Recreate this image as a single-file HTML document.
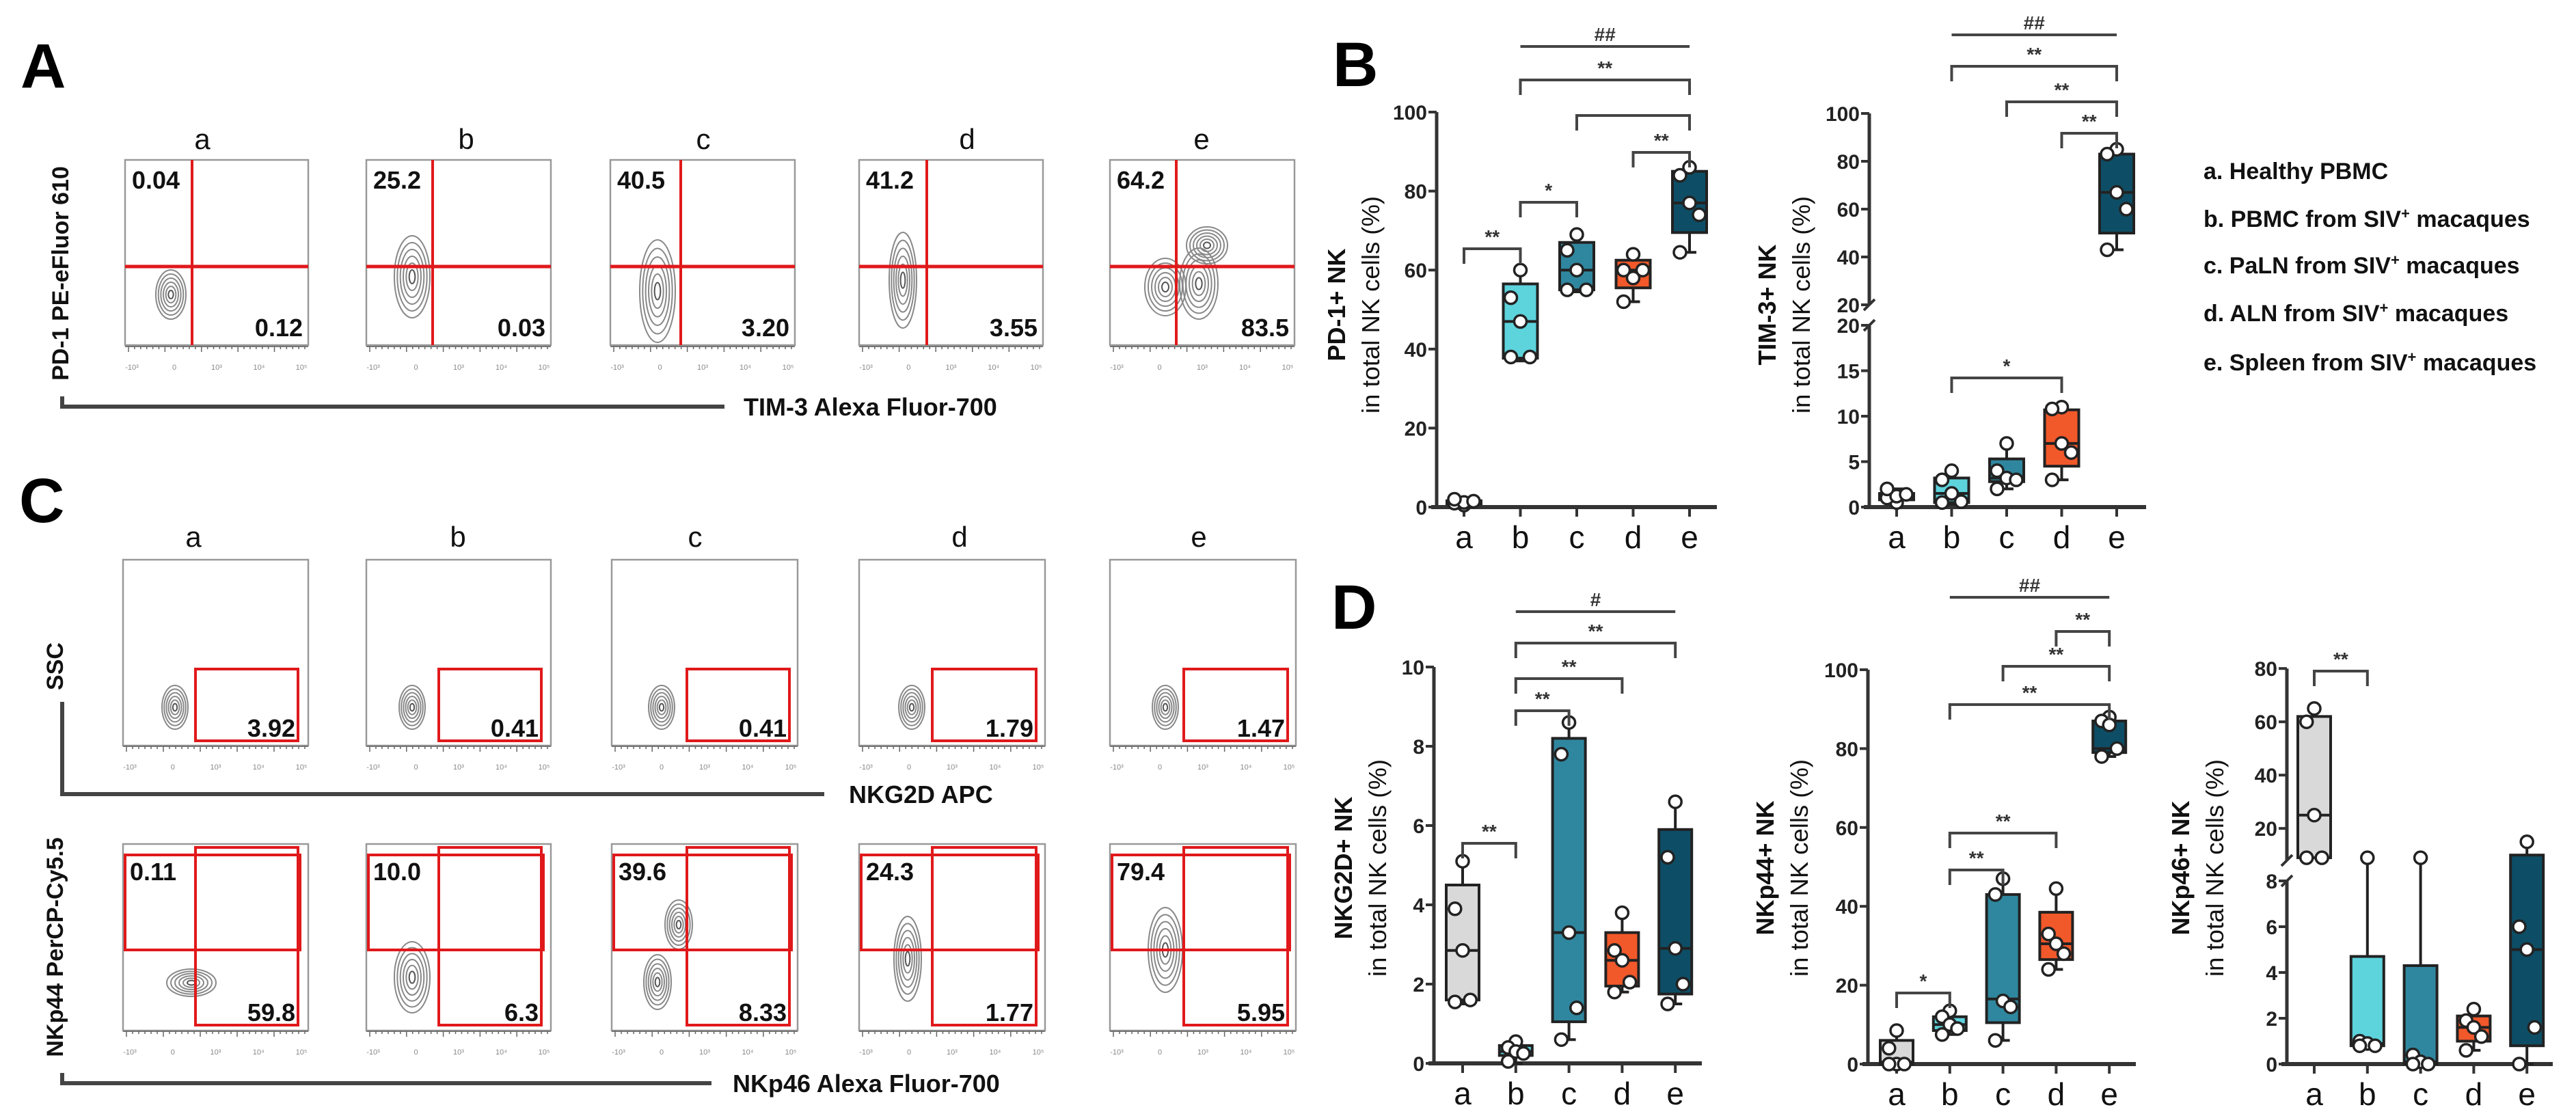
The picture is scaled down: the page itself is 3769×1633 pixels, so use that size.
<!DOCTYPE html>
<html><head><meta charset="utf-8"><style>
html,body{margin:0;padding:0;background:#fff}
svg{display:block;font-family:"Liberation Sans",sans-serif}
</style></head><body>
<svg id="fig" width="3769" height="1633" viewBox="0 0 3769 1633" xmlns="http://www.w3.org/2000/svg">
<rect width="3769" height="1633" fill="#fff"/>
<g id="flow"></g>
<g id="charts"></g>
</svg>
<script>
// ===== Data =====
const cats = ['a','b','c','d','e'];
const colors = ['#d9d9d9','#5dd3dc','#2f879f','#f1582a','#0d4e66'];
// Panel B: PD-1
const pd1Box = [[0.6,0.8,1.2,1.6,2],[37,37.7,47,56.5,60],[54.5,55,60,67,69],[52,55.5,60,62.5,64],[64.5,69.5,77,85,86]];
const pd1Pts = [[0.5,1,1.2,1.5,2],[60,53,47,38,38],[69,65,60,55,55],[64,60,58,60,52],[86,84,77,74,64.5]];
// Panel B: TIM-3
const tim3Box = [[0.3,0.8,1.2,1.5,2],[0.3,0.5,1.5,3.2,4],[2,2.8,3.2,5.3,7],[3,4.5,7,10.7,11],[43,50,67,83,85]];
const tim3Pts = [[0.5,1,1.2,1.4,2],[4,3,1.5,0.6,0.5],[7,4,3.2,3,2],[11,10.8,7,6,3],[85,83,67,60,43]];
// Panel D: NKG2D
const nkg2dBox = [[1.5,1.6,2.85,4.5,5.1],[0,0.2,0.3,0.45,0.55],[0.6,1.05,3.3,8.2,8.6],[1.8,1.95,2.6,3.3,3.8],[1.5,1.75,2.9,5.9,6.6]];
const nkg2dPts = [[5.1,3.9,2.85,1.6,1.55],[0.55,0.4,0.3,0.25,0.05],[8.6,7.8,3.3,1.4,0.6],[3.8,2.85,2.6,2.05,1.8],[6.6,5.2,2.9,2.0,1.5]];
// Panel D: NKp44
const nkp44Box = [[0,0,0.5,6,8.5],[7.5,8.5,10,12,13.5],[6,10.5,16.5,43,47],[24,26.5,30.5,38.5,44.5],[78,79,80,87,88]];
const nkp44Pts = [[8.5,4,0,0,0],[13.5,12,10,9,7.5],[47,43,16,14.5,6],[44.5,33,30.5,28,24],[88,87,86,80,78]];
// Panel D: NKp46
const nkp46Box = [[9,9,25,62,65],[0.8,0.8,0.9,4.7,9],[0,0,0.1,4.3,9],[0.6,1,1.6,2.1,2.4],[0,0.8,5,10,15]];
const nkp46Pts = [[65,60,25,9,9],[9,1,0.9,0.8,0.8],[9,0.4,0.1,0,0],[2.4,1.9,1.6,1.2,0.6],[15,6,5,1.6,0]];
// Ticks
const pd1Ticks = [0,20,40,60,80,100];
const tim3Ticks = [0,5,10,15,20,20,40,60,80,100];
const nkg2dTicks = [0,2,4,6,8,10];
const nkp44Ticks = [0,20,40,60,80,100];
const nkp46Ticks = [0,2,4,6,8,20,40,60,80];
// Flow numbers
const flowATop = ['0.04','25.2','40.5','41.2','64.2'];
const flowABot = ['0.12','0.03','3.20','3.55','83.5'];
const flowC1 = ['3.92','0.41','0.41','1.79','1.47'];
const flowC2Top = ['0.11','10.0','39.6','24.3','79.4'];
const flowC2Bot = ['59.8','6.3','8.33','1.77','5.95'];

const NS='http://www.w3.org/2000/svg';
function mk(parent,tag,attrs,text){const e=document.createElementNS(NS,tag);for(const k in attrs)e.setAttribute(k,attrs[k]);if(text!==undefined)e.textContent=text;parent.appendChild(e);return e;}
const charts=document.getElementById('charts');
const flow=document.getElementById('flow');

// ===== Panel letters =====
[['A',30,128],['C',28,764],['B',1950,126],['D',1948,920]].forEach(p=>{
  const t=mk(charts,'text',{x:p[1],y:p[2],'font-size':92,'font-weight':'bold',fill:'#000'},p[0]);
  
  
});

// ===== Box plot chart =====
function chart(cfg){
  const g=mk(charts,'g',{});
  
  
  const xs=i=>cfg.x0+i*cfg.dx;
  const y=cfg.y;
  const ax=mk(g,'g',{});
  
  
  if(cfg.brk!==undefined){
    mk(ax,'line',{x1:cfg.ax,x2:cfg.ax,y1:y(cfg.top),y2:cfg.brkUp,stroke:'#333','stroke-width':5});
    mk(ax,'line',{x1:cfg.ax,x2:cfg.ax,y1:cfg.brkLo,y2:cfg.base,stroke:'#333','stroke-width':5});
    mk(ax,'line',{x1:cfg.ax-8,x2:cfg.ax+8,y1:cfg.brkUp+8,y2:cfg.brkUp-8,stroke:'#333','stroke-width':4});
    mk(ax,'line',{x1:cfg.ax-8,x2:cfg.ax+8,y1:cfg.brkLo+8,y2:cfg.brkLo-8,stroke:'#333','stroke-width':4});
  } else {
    mk(ax,'line',{x1:cfg.ax,x2:cfg.ax,y1:y(cfg.top),y2:cfg.base,stroke:'#333','stroke-width':5});
  }
  cfg.ticks.forEach((v,i)=>{
    let yy=y(v);
    if(cfg.brk!==undefined && v===cfg.brk){
      const first=cfg.ticks.indexOf(v), last=cfg.ticks.lastIndexOf(v);
      yy = (first===last || i===first) ? cfg.brkLo : cfg.brkUp;
    }
    mk(ax,'line',{x1:cfg.ax-12,x2:cfg.ax,y1:yy,y2:yy,stroke:'#333','stroke-width':4});
    const t=mk(ax,'text',{x:cfg.ax-14,y:yy+11,'font-size':30,'font-weight':'bold','text-anchor':'end',fill:'#222'},String(v));
    
    
  });
  const xa=mk(g,'line',{x1:cfg.ax-8,x2:cfg.xEnd,y1:cfg.base,y2:cfg.base,stroke:'#333','stroke-width':6});
  
  
  cats.forEach((c,i)=>{
    mk(g,'line',{x1:xs(i),x2:xs(i),y1:cfg.base,y2:cfg.base+14,stroke:'#333','stroke-width':4});
    const t=mk(g,'text',{x:xs(i),y:cfg.base+60,'font-size':46,'text-anchor':'middle',fill:'#111'},c);
    
    
  });
  const tx=cfg.tx, ty=cfg.ty;
  const t1=mk(g,'text',{x:0,y:0,'font-size':36,'font-weight':'bold','text-anchor':'middle',transform:`translate(${tx},${ty}) rotate(-90)`,fill:'#111'},cfg.title1);
  
  
  const t2=mk(g,'text',{x:0,y:0,'font-size':36,'text-anchor':'middle',transform:`translate(${tx+50},${ty}) rotate(-90)`,fill:'#111',textLength:318,lengthAdjust:'spacingAndGlyphs'},'in total NK cells (%)');
  
  
  const bw=cfg.bw||50;
  cfg.box.forEach((b,i)=>{
    const bg=mk(g,'g',{});
    
    
    const x=xs(i);
    mk(bg,'line',{x1:x,x2:x,y1:y(b[0]),y2:y(b[4]),stroke:'#222','stroke-width':4});
    mk(bg,'line',{x1:x-10,x2:x+10,y1:y(b[0]),y2:y(b[0]),stroke:'#222','stroke-width':4});
    mk(bg,'line',{x1:x-10,x2:x+10,y1:y(b[4]),y2:y(b[4]),stroke:'#222','stroke-width':4});
    const top=y(b[3]),bot=y(b[1]);
    mk(bg,'rect',{x:x-bw/2,y:top,width:bw,height:Math.max(bot-top,3),fill:colors[i],stroke:'#222','stroke-width':4});
    mk(bg,'line',{x1:x-bw/2,x2:x+bw/2,y1:y(b[2]),y2:y(b[2]),stroke:'#222','stroke-width':4});
    cfg.pts[i].forEach((v,j)=>{
      const off=[0,-14,0,14,-14][j]*(cfg.jit||1);
      const c=mk(bg,'circle',{cx:x+off,cy:y(v),r:9,fill:'#fff',stroke:'#222','stroke-width':3.5});
      
      
    });
  });
  cfg.sig.forEach(s=>{
    const sg=mk(g,'g',{});
    
    
    const x1=xs(s[0]),x2=xs(s[1]);
    if(s[3]){
      mk(sg,'polyline',{points:`${x1},${s[2]+22} ${x1},${s[2]} ${x2},${s[2]} ${x2},${s[2]+22}`,fill:'none',stroke:'#444','stroke-width':4});
    } else {
      mk(sg,'line',{x1:x1,x2:x2,y1:s[2],y2:s[2],stroke:'#444','stroke-width':4});
    }
    if(s[4]) mk(sg,'text',{x:(x1+x2)/2,y:s[2]-8,'font-size':28,'font-weight':'bold','text-anchor':'middle',fill:'#333'},s[4]);
  });
}

chart({name:'pd1-chart',ax:2102,x0:2142,dx:82.5,xEnd:2512,base:742,top:100,y:v=>742-v*5.78,ticks:pd1Ticks,
  box:pd1Box,pts:pd1Pts,tx:1968,ty:446,title1:'PD-1+ NK',
  sig:[[0,1,364,1,'**'],[1,2,296,1,'*'],[2,4,169,1,''],[3,4,223,1,'**'],[1,4,117,1,'**'],[1,4,68,0,'##']]});
chart({name:'tim3-chart',ax:2735,x0:2775,dx:80.5,xEnd:3140,base:742,top:100,brk:20,brkUp:446,brkLo:476,
  y:v=>v<=20?742-v*13.3:446-(v-20)*3.5,ticks:tim3Ticks,
  box:tim3Box,pts:tim3Pts,tx:2598,ty:446,title1:'TIM-3+ NK',
  sig:[[1,3,553,1,'*'],[3,4,195,1,'**'],[2,4,149,1,'**'],[1,4,97,1,'**'],[1,4,51,0,'##']]});
chart({name:'nkg2d-chart',ax:2098,x0:2140,dx:77.8,xEnd:2490,base:1556,top:10,y:v=>1556-v*58,ticks:nkg2dTicks,
  box:nkg2dBox,pts:nkg2dPts,tx:1978,ty:1270,title1:'NKG2D+ NK',bw:48,jit:0.8,
  sig:[[0,1,1234,1,'**'],[1,2,1040,1,'**'],[1,3,993,1,'**'],[1,4,941,1,'**'],[1,4,895,0,'#']]});
chart({name:'nkp44-chart',ax:2733,x0:2775,dx:77.8,xEnd:3125,base:1557,top:100,y:v=>1557-v*5.77,ticks:nkp44Ticks,
  box:nkp44Box,pts:nkp44Pts,tx:2595,ty:1270,title1:'NKp44+ NK',bw:48,jit:0.8,
  sig:[[0,1,1453,1,'*'],[1,2,1273,1,'**'],[1,3,1219,1,'**'],[1,4,1031,1,'**'],[2,4,975,1,'**'],[3,4,924,1,'**'],[1,4,874,0,'##']]});
chart({name:'nkp46-chart',ax:3346,x0:3386,dx:77.8,xEnd:3735,base:1557,top:80,brk:8,brkUp:1259,brkLo:1289,
  y:v=>v<=8?1557-v*33.5:1259-(v-8)*3.9,ticks:nkp46Ticks,
  box:nkp46Box,pts:nkp46Pts,tx:3203,ty:1270,title1:'NKp46+ NK',bw:48,jit:0.8,
  sig:[[0,1,982,1,'**']]});

// ===== Legend =====
const legend=mk(charts,'g',{});


const legItems=[['a. Healthy PBMC',''],['b. PBMC from SIV','macaques'],['c. PaLN from SIV','macaques'],['d. ALN from SIV','macaques'],['e. Spleen from SIV','macaques']];
const legY=[262,332,400,470,542];
legItems.forEach((it,i)=>{
  const t=mk(legend,'text',{x:3224,y:legY[i],'font-size':34,'font-weight':'bold',fill:'#111'});
  
  
  mk(t,'tspan',{},it[0]);
  if(it[1]){mk(t,'tspan',{'baseline-shift':'super','font-size':22},'+');mk(t,'tspan',{},' '+it[1]);}
});

// ===== Flow plots =====
const colX=[[183,451],[536,806],[893,1163],[1257,1526],[1624,1894]];
const labX=[296,682,1029,1415,1758];
function contour(g,cx,cy,rx,ry,n){
  for(let k=n;k>=1;k--){
    mk(g,'ellipse',{cx:cx,cy:cy,rx:rx*k/n,ry:ry*k/n,fill:'none',stroke:k<2?'#555':'#888','stroke-width':2});
  }
}
function ticksBottom(g,x0,x1,yb){
  mk(g,'line',{x1:x0,x2:x1,y1:yb,y2:yb,stroke:'#777','stroke-width':2});
  for(let k=0;k<30;k++){const xx=x0+5+k*(x1-x0-10)/29;mk(g,'line',{x1:xx,x2:xx,y1:yb,y2:yb+(k%6==0?8:4),stroke:'#666','stroke-width':1.5});}
  ['-10³','0','10³','10⁴','10⁵'].forEach((s,k)=>{
    mk(g,'text',{x:x0+10+k*(x1-x0-20)/4,y:yb+34,'font-size':11,fill:'#888','text-anchor':'middle'},s);
  });
}
const A_cont=[[[250,431,22,36]],[[603,405,26,60]],[[962,426,26,75]],[[1321,410,20,70]],[[1766,359,30,27],[1754,415,28,52],[1705,420,30,42]]];
colX.forEach((cx,i)=>{
  const g=mk(flow,'g',{});
  
  
  mk(g,'text',{x:labX[i],y:218,'font-size':42,'text-anchor':'middle',fill:'#111'},cats[i]);
  mk(g,'rect',{x:cx[0],y:234,width:cx[1]-cx[0],height:271,fill:'#fff',stroke:'#999','stroke-width':2.5});
  A_cont[i].forEach(c=>contour(g,c[0],c[1],c[2],c[3],6));
  const vx=cx[0]+[98,97,103,99,97][i];
  mk(g,'line',{x1:vx,x2:vx,y1:234,y2:505,stroke:'#e0191b','stroke-width':4});
  mk(g,'line',{x1:cx[0],x2:cx[1],y1:390,y2:390,stroke:'#e0191b','stroke-width':5});
  mk(g,'text',{x:cx[0]+10,y:276,'font-size':36,'font-weight':'bold',fill:'#111',textLength:70,lengthAdjust:'spacingAndGlyphs'},flowATop[i]);
  mk(g,'text',{x:cx[1]-8,y:492,'font-size':36,'font-weight':'bold','text-anchor':'end',fill:'#111'},flowABot[i]);
  ticksBottom(g,cx[0],cx[1],507);
});
const axA=mk(flow,'g',{});


mk(axA,'text',{x:0,y:0,'font-size':34,'font-weight':'bold','text-anchor':'middle',transform:'translate(100,400) rotate(-90)',fill:'#111'},'PD-1 PE-eFluor 610');
mk(axA,'polyline',{points:'91,580 91,595 1060,595',fill:'none',stroke:'#444','stroke-width':6});
mk(axA,'text',{x:1088,y:608,'font-size':36,'font-weight':'bold',fill:'#111'},'TIM-3 Alexa Fluor-700');

const labCX=[283,670,1017,1404,1754];
const gate1=[[286,436],[642,792],[1005,1155],[1364,1516],[1732,1884]];
const C1c=[256,603,968,1334,1705];
const C2cont=[[[280,1438,36,20]],[[603,1430,26,52]],[[993,1353,20,36],[962,1437,20,40]],[[1328,1403,20,62]],[[1705,1390,25,62]]];
const boxC1=[[180,451],[536,806],[895,1167],[1257,1529],[1624,1896]];
boxC1.forEach((cx,i)=>{
  const g=mk(flow,'g',{});
  
  
  mk(g,'text',{x:labCX[i],y:800,'font-size':42,'text-anchor':'middle',fill:'#111'},cats[i]);
  mk(g,'rect',{x:cx[0],y:819,width:cx[1]-cx[0],height:272,fill:'#fff',stroke:'#999','stroke-width':2.5});
  contour(g,C1c[i],1035,19,32,6);
  mk(g,'rect',{x:gate1[i][0],y:979,width:gate1[i][1]-gate1[i][0],height:105,fill:'none',stroke:'#e0191b','stroke-width':4});
  mk(g,'text',{x:gate1[i][1]-4,y:1078,'font-size':36,'font-weight':'bold','text-anchor':'end',fill:'#111'},flowC1[i]);
  ticksBottom(g,cx[0],cx[1],1092);
  const gr=mk(flow,'g',{});
  
  
  mk(gr,'rect',{x:cx[0],y:1235,width:cx[1]-cx[0],height:273,fill:'#fff',stroke:'#999','stroke-width':2.5});
  C2cont[i].forEach(c=>contour(gr,c[0],c[1],c[2],c[3],6));
  mk(gr,'rect',{x:cx[0]+3,y:1251,width:gate1[i][1]-cx[0],height:139,fill:'none',stroke:'#e0191b','stroke-width':4});
  mk(gr,'rect',{x:gate1[i][0],y:1240,width:gate1[i][1]-gate1[i][0],height:260,fill:'none',stroke:'#e0191b','stroke-width':4});
  mk(gr,'text',{x:cx[0]+10,y:1288,'font-size':36,'font-weight':'bold',fill:'#111'},flowC2Top[i]);
  mk(gr,'text',{x:gate1[i][1]-4,y:1494,'font-size':36,'font-weight':'bold','text-anchor':'end',fill:'#111'},flowC2Bot[i]);
  ticksBottom(gr,cx[0],cx[1],1509);
});
const axC=mk(flow,'g',{});


mk(axC,'text',{x:0,y:0,'font-size':34,'font-weight':'bold','text-anchor':'middle',transform:'translate(92,975) rotate(-90)',fill:'#111'},'SSC');
mk(axC,'polyline',{points:'91,1027 91,1162 1206,1162',fill:'none',stroke:'#444','stroke-width':6});
mk(axC,'text',{x:1242,y:1175,'font-size':36,'font-weight':'bold',fill:'#111'},'NKG2D APC');
mk(axC,'text',{x:0,y:0,'font-size':34,'font-weight':'bold','text-anchor':'middle',transform:'translate(92,1386) rotate(-90)',fill:'#111'},'NKp44 PerCP-Cy5.5');
mk(axC,'polyline',{points:'91,1570 91,1585 1041,1585',fill:'none',stroke:'#444','stroke-width':6});
mk(axC,'text',{x:1072,y:1598,'font-size':36,'font-weight':'bold',fill:'#111'},'NKp46 Alexa Fluor-700');
</script>
</body></html>
